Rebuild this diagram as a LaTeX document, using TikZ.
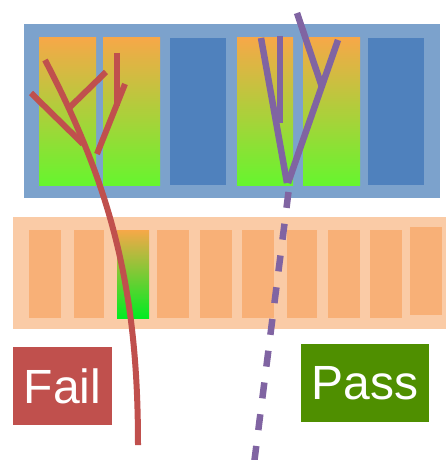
\documentclass[tikz,border=0pt]{standalone}
\usepackage{fontspec}
\setmainfont{Liberation Sans}
\definecolor{frameblue}{RGB}{124,162,204}
\definecolor{boxblue}{RGB}{79,129,189}
\definecolor{frameorange}{RGB}{250,203,166}
\definecolor{boxorange}{RGB}{248,176,119}
\definecolor{gradtop}{RGB}{246,168,72}
\definecolor{gradbot}{RGB}{102,245,46}
\definecolor{gradbotb}{RGB}{0,236,34}
\definecolor{failred}{RGB}{192,80,77}
\definecolor{passgreen}{RGB}{79,143,0}
\definecolor{treepurple}{RGB}{128,100,162}
\begin{document}
\begin{tikzpicture}[x=1pt,y=-1pt,
  box/.style={draw=none,inner sep=0pt,outer sep=0pt,anchor=north west},
  topgrad/.style={box,minimum width=57pt,minimum height=147pt,top color=gradtop,bottom color=gradbot},
  topblue/.style={box,minimum width=56pt,minimum height=147pt,fill=boxblue},
  botbox/.style={box,minimum width=32pt,minimum height=88pt,fill=boxorange},
  botgrad/.style={box,minimum width=32pt,minimum height=88pt,top color=gradtop,bottom color=gradbotb},
  label/.style={box,anchor=center,text=white,font=\fontsize{48}{58}\selectfont},
  redline/.style={draw=failred,line width=6pt},
  purpleline/.style={draw=treepurple,line width=6.5pt}]
\useasboundingbox (0,0) rectangle (446,460);
% top frame
\node[box,fill=frameblue,minimum width=416pt,minimum height=174pt] (topframe) at (24,24) {};
\node[topgrad] (t1) at (39,38) {};
\node[topgrad] (t2) at (103,38) {};
\node[topblue] (t3) at (170,38) {};
\node[topgrad,minimum width=56pt] (t4) at (237,38) {};
\node[topgrad] (t5) at (303,38) {};
\node[topblue] (t6) at (368,38) {};
% bottom frame
\node[box,fill=frameorange,minimum width=433pt,minimum height=112pt] (botframe) at (13,217) {};
\node[botbox] (b1) at (29,230) {};
\node[botbox,minimum width=30pt] (b2) at (74,230) {};
\node[botgrad] (b3) at (117,230) {};
\node[botbox] (b4) at (157,230) {};
\node[botbox] (b5) at (200,230) {};
\node[botbox] (b6) at (242,230) {};
\node[botbox,minimum width=30pt] (b7) at (287,230) {};
\node[botbox] (b8) at (328,230) {};
\node[botbox] (b9) at (370,230) {};
\node[botbox] (b10) at (410,227) {};
% labels
\node[box,fill=failred,minimum width=99pt,minimum height=78pt] (failbox) at (13,347) {};
\node[label] (fail) at (failbox.center) {Fail};
\node[box,fill=passgreen,minimum width=128pt,minimum height=78pt] (passbox) at (301,344) {};
\node[label] (pass) at (passbox.center) {Pass};
% red tree
\draw[redline] (45,60) .. controls (114,192) and (138,295) .. (138,445);
\draw[redline] (31,93) -- (83,144);
\draw[redline] (68,109) -- (106,72);
\draw[redline] (117,53) -- (117,106);
\draw[redline] (125,84) -- (97,154);
% purple tree
\draw[purpleline] (297,13) -- (322,87);
\draw[purpleline] (338,40) -- (288,183);
\draw[purpleline] (261,38) -- (287,183);
\draw[purpleline] (280,36) -- (280,123);
\draw[purpleline,dash pattern=on 16pt off 16pt] (288.5,192) -- (254,464);
\end{tikzpicture}
\end{document}
